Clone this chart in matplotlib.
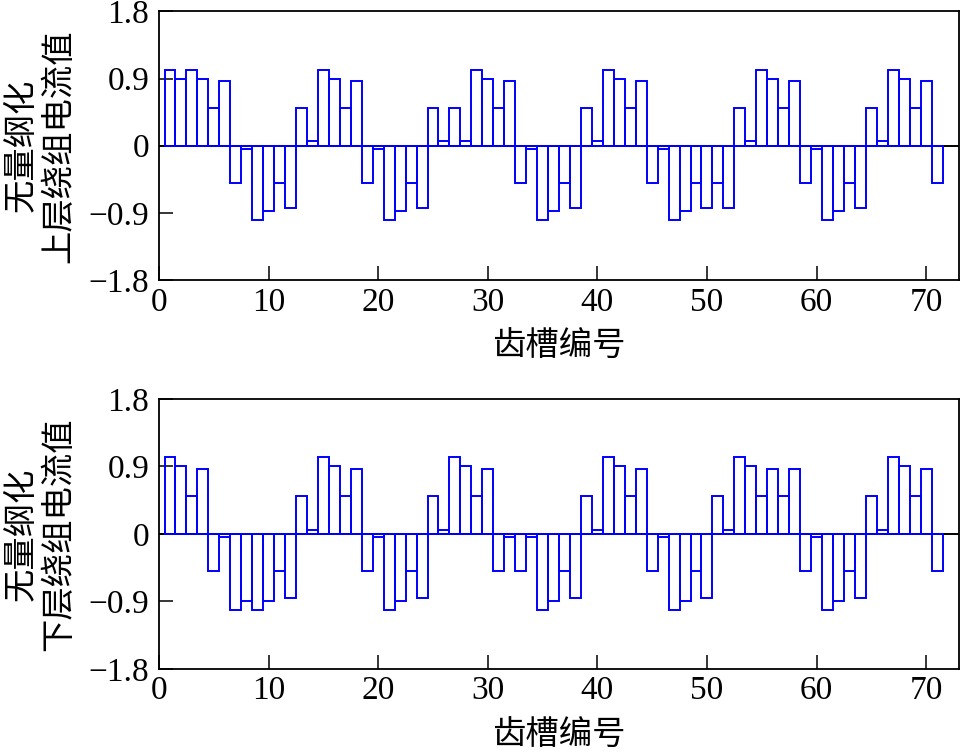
import numpy as np
import matplotlib.pyplot as plt

plt.rcParams['font.family'] = ['Liberation Serif', 'Noto Sans CJK SC']

slots = np.arange(1, 72)

upper = [1.01, 0.9, 1.01, 0.9, 0.5, 0.86, -0.5, -0.04, -1.0, -0.88, -0.5, -0.84,
         0.5, 0.06, 1.01, 0.9, 0.5, 0.86, -0.5, -0.04, -1.0, -0.88, -0.5, -0.84,
         0.5, 0.06, 0.5, 0.06, 1.01, 0.9, 0.5, 0.86, -0.5, -0.04, -1.0, -0.88,
         -0.5, -0.84, 0.5, 0.06, 1.01, 0.9, 0.5, 0.86, -0.5, -0.04, -1.0, -0.88,
         -0.5, -0.84, -0.5, -0.84, 0.5, 0.06, 1.01, 0.9, 0.5, 0.86, -0.5, -0.04,
         -1.0, -0.88, -0.5, -0.84, 0.5, 0.06, 1.01, 0.9, 0.5, 0.86, -0.5]

lower = [1.02, 0.9, 0.5, 0.86, -0.5, -0.04, -1.02, -0.9, -1.02, -0.9, -0.5, -0.86,
         0.5, 0.05, 1.02, 0.9, 0.5, 0.86, -0.5, -0.04, -1.02, -0.9, -0.5, -0.86,
         0.5, 0.05, 1.02, 0.9, 0.5, 0.86, -0.5, -0.04, -0.5, -0.04, -1.02, -0.9,
         -0.5, -0.86, 0.5, 0.05, 1.02, 0.9, 0.5, 0.86, -0.5, -0.04, -1.02, -0.9,
         -0.5, -0.86, 0.5, 0.05, 1.02, 0.9, 0.5, 0.86, 0.5, 0.86, -0.5, -0.04,
         -1.02, -0.9, -0.5, -0.86, 0.5, 0.05, 1.02, 0.9, 0.5, 0.86, -0.5]

yticks = [-1.8, -0.9, 0, 0.9, 1.8]
ytick_labels = ['\u22121.8', '\u22120.9', '0', '0.9', '1.8']
xticks = [0, 10, 20, 30, 40, 50, 60, 70]
ylabels = ['无量纲化\n上层绕组电流值', '无量纲化\n下层绕组电流值']
xlabel = '齿槽编号'

fig = plt.figure(figsize=(9.65, 7.53), dpi=100)
ax_top = fig.add_axes([0.1648, 0.628, 0.829, 0.357])
ax_bot = fig.add_axes([0.1648, 0.1116, 0.829, 0.3586])

for ax, vals, ylab in zip([ax_top, ax_bot], [upper, lower], ylabels):
    ax.axhline(0, color='black', lw=1.4, zorder=1)
    ax.bar(slots, vals, width=1.0, fill=False, edgecolor='#0000ff', linewidth=1.4, zorder=2)
    ax.set_xlim(0, 73)
    ax.set_ylim(-1.8, 1.8)
    ax.set_yticks(yticks)
    ax.set_yticklabels(ytick_labels)
    ax.set_xticks(xticks)
    ax.tick_params(direction='in', length=10, width=1.1, labelsize=24,
                   top=False, right=False)
    ax.tick_params(axis='y', pad=7)
    ax.tick_params(axis='x', pad=5)
    for s in ax.spines.values():
        s.set_linewidth(1.3)
    ax.set_xlabel(xlabel, fontsize=24, family='Noto Sans CJK SC', labelpad=8)
    ax.set_ylabel(ylab, fontsize=24, family='Noto Sans CJK SC', linespacing=1.12)
    ax.yaxis.set_label_coords(-0.103, 0.5)

fig.savefig('out.png', dpi=100)
